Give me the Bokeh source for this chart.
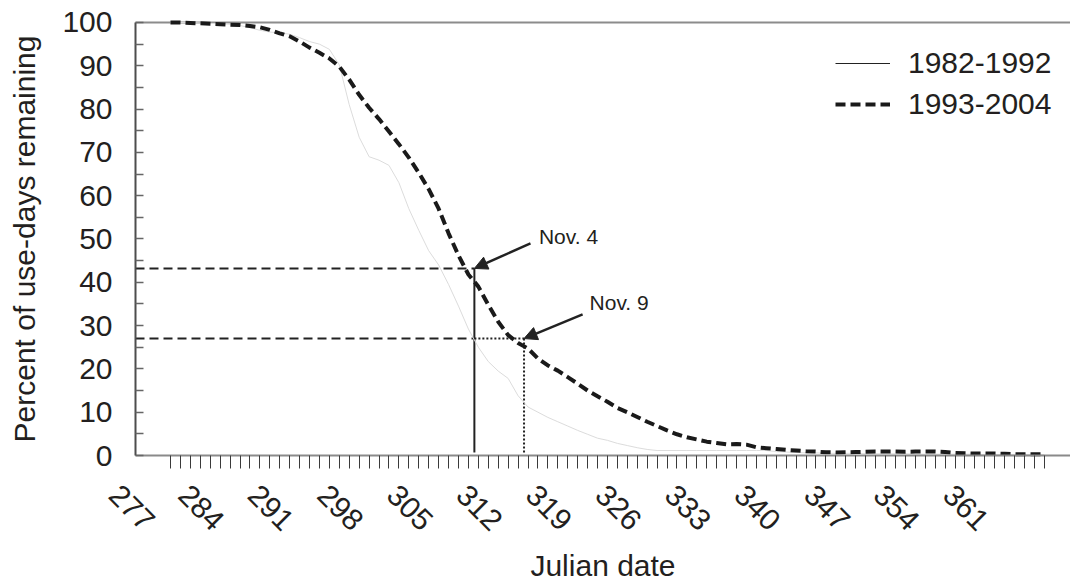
import math
from bokeh.plotting import figure
from bokeh.models import (Range1d, FixedTicker, LabelSet, Label, ColumnDataSource,
                          Arrow, NormalHead, Legend, LegendItem)
from bokeh.core.properties import value
from bokeh.embed import file_html
from bokeh.resources import INLINE

# ---------------- data ----------------
days = list(range(277, 366))

pct_1982_1992 = [
    100, 100, 100, 99.9, 99.8, 99.7, 99.6, 99.3, 98.8, 98.2,      # 277-286
    97.8, 97.6, 97.3, 96.5, 95.6, 95.0, 93.8, 90.2, 81.0, 73.5,   # 287-296
    69.0, 68.2, 67.0, 63.0, 57.0, 52.0, 47.3, 44.0, 39.5, 34.5,   # 297-306
    29.2, 25.0, 21.7, 19.5, 17.8, 13.8, 11.2, 10.0, 8.8, 7.8,     # 307-316
    6.8, 5.8, 4.9, 4.0, 3.5, 2.8, 2.3, 1.8, 1.4, 1.15,            # 317-326
    1.15, 1.15, 1.15, 1.15, 1.15, 1.15, 1.15, 1.15, 1.15, 1.15,   # 327-336
    1.15, 0.9, 0.8, 0.7, 0.6, 0.6, 0.5, 0.5, 0.5, 0.5,            # 337-346
    0.4, 0.4, 0.4, 0.4, 0.4, 0.3, 0.3, 0.3, 0.3, 0.3,             # 347-356
    0.3, 0.3, 0.2, 0.2, 0.2, 0.2, 0.2, 0.2, 0.2,                  # 357-365
]

pct_1993_2004 = [
    100, 100, 99.9, 99.8, 99.7, 99.6, 99.5, 99.4, 99.2, 98.9,     # 277-286
    98.3, 97.5, 96.8, 95.6, 94.2, 93.0, 91.7, 89.8, 86.8, 83.3,   # 287-296
    80.3, 77.7, 74.8, 71.9, 68.8, 65.3, 61.5, 57.0, 51.3, 46.2,   # 297-306
    41.8, 39.0, 34.8, 30.9, 27.8, 26.0, 24.7, 22.4, 20.8, 19.6,   # 307-316
    18.1, 16.6, 15.0, 13.7, 12.4, 11.0, 10.0, 8.9, 7.8, 6.8,      # 317-326
    5.8, 4.9, 4.2, 3.7, 3.2, 2.9, 2.6, 2.65, 2.5, 1.9,            # 327-336
    1.7, 1.5, 1.3, 1.15, 1.0, 0.9, 0.75, 0.7, 0.75, 0.8,          # 337-346
    0.85, 0.9, 0.9, 0.9, 0.85, 0.9, 0.9, 0.9, 0.8, 0.6,           # 347-356
    0.5, 0.45, 0.45, 0.45, 0.4, 0.3, 0.3, 0.3, 0.3,               # 357-365
]
assert len(pct_1982_1992) == len(days) == len(pct_1993_2004)

tick_label_days = list(range(277, 362, 7))
y_ticks = list(range(0, 101, 10))
y_minor_ticks = list(range(5, 100, 10))
y_min, y_max = 0, 100

series_labels = ["1982-1992", "1993-2004"]

# annotation values (day, percent)
nov4_day, nov4_pct = 307.6, 43.2
nov9_day, nov9_pct = 312.6, 27.0
ref_floor = 0.7
nov4_arrow_tail = (313.25, 49.0)
nov9_arrow_tail = (318.5, 32.6)
nov4_text_pos = (314.1, 50.6)
nov9_text_pos = (319.2, 35.3)

# ---------------- style / layout ----------------
FONT = "Liberation Sans"
INK = "#231f20"
W, H = 1070, 582
# the plotting frame covers the whole canvas; axes are pinned inside it
view_x = (259.88, 367.63)
view_y = (-29.33, 105.08)
axis_x_at = 273.475          # day value where the vertical axis stands
label_shift = -3.9           # rotated tick labels sit left of their day (as in the original)
label_y = -12.1              # vertical position of rotated tick labels

p = figure(width=W, height=H, output_backend="svg", toolbar_location=None,
           x_range=Range1d(*view_x), y_range=Range1d(*view_y),
           min_border=0, min_border_left=0, min_border_right=0,
           min_border_top=0, min_border_bottom=0,
           background_fill_color="white", border_fill_color="white")
p.outline_line_color = None
p.xgrid.visible = False
p.ygrid.visible = False

# top border line of the plot area
p.segment(x0=[axis_x_at], y0=[y_max], x1=[view_x[1]], y1=[y_max],
          line_color="#8c8c8c", line_width=2)

# y axis
ya = p.yaxis[0]
ya.fixed_location = axis_x_at
ya.bounds = (y_min, y_max)
ya.ticker = FixedTicker(ticks=y_ticks, minor_ticks=y_minor_ticks)
ya.axis_line_color = "#4d4d4d"
ya.axis_line_width = 2
ya.major_tick_in = 8
ya.major_tick_out = 0
ya.minor_tick_in = 8
ya.minor_tick_out = 0
ya.major_tick_line_color = "#666666"
ya.minor_tick_line_color = "#666666"
ya.major_tick_line_width = 1.5
ya.minor_tick_line_width = 1.5
ya.major_label_text_font = FONT
ya.major_label_text_font_size = "30px"
ya.major_label_text_color = INK
ya.major_label_standoff = 23
ya.axis_label = "Percent of use-days remaining"
ya.axis_label_text_font = FONT
ya.axis_label_text_font_size = "30px"
ya.axis_label_text_font_style = "normal"
ya.axis_label_text_color = INK
ya.axis_label_standoff = 18

# x axis (a tick for every day; labels drawn below as rotated text)
xa = p.xaxis[0]
xa.fixed_location = y_min
xa.bounds = (axis_x_at, view_x[1])
xa.ticker = FixedTicker(ticks=[], minor_ticks=days)
xa.axis_line_color = "#8a8a8a"
xa.axis_line_width = 2
xa.minor_tick_in = 0
xa.minor_tick_out = 13
xa.minor_tick_line_color = "#3a3a3a"
xa.minor_tick_line_width = 1
xa.major_tick_in = 0
xa.major_tick_out = 0
xa.axis_label = "Julian date"
xa.axis_label_text_font = FONT
xa.axis_label_text_font_size = "30px"
xa.axis_label_text_font_style = "normal"
xa.axis_label_text_color = INK
xa.axis_label_standoff = 80

lbl_src = ColumnDataSource(dict(x=[d + label_shift for d in tick_label_days],
                                text=[str(d) for d in tick_label_days]))
p.add_layout(LabelSet(x="x", y=label_y, text="text", source=lbl_src,
                      angle=-math.pi / 4, text_align="center", text_baseline="middle",
                      text_font=value(FONT), text_font_size="30px", text_color=INK))

# reference lines
p.segment(x0=[axis_x_at], y0=[nov4_pct], x1=[nov4_day], y1=[nov4_pct],
          line_color="#222222", line_width=2, line_dash="9 5")
p.segment(x0=[axis_x_at], y0=[nov9_pct], x1=[nov4_day], y1=[nov9_pct],
          line_color="#222222", line_width=2, line_dash="9 5")
p.segment(x0=[nov4_day], y0=[nov9_pct], x1=[nov9_day], y1=[nov9_pct],
          line_color="#222222", line_width=2, line_dash="2 2")
p.segment(x0=[nov4_day], y0=[nov4_pct], x1=[nov4_day], y1=[ref_floor],
          line_color="#222222", line_width=2)
p.segment(x0=[nov9_day], y0=[nov9_pct], x1=[nov9_day], y1=[ref_floor],
          line_color="#222222", line_width=2, line_dash="2 2")

# series
src = ColumnDataSource(dict(day=days, a=pct_1982_1992, b=pct_1993_2004))
r_a = p.line("day", "a", source=src, line_color="#dcdcdc", line_width=1)
r_b = p.line("day", "b", source=src, line_color="#1a1a1a", line_width=4,
             line_dash="10 5", line_cap="butt")
proxy_a = p.line(x=[float("nan")], y=[float("nan")], line_color="#222222", line_width=1)

# arrows and notes
for (tx, ty), hx, hy in [(nov4_arrow_tail, nov4_day, nov4_pct),
                         (nov9_arrow_tail, nov9_day, nov9_pct)]:
    p.add_layout(Arrow(end=NormalHead(size=13, fill_color="#222222", line_color="#222222"),
                       x_start=tx, y_start=ty, x_end=hx, y_end=hy,
                       line_color="#222222", line_width=2.5))
for (tx, ty), txt in [(nov4_text_pos, "Nov. 4"), (nov9_text_pos, "Nov. 9")]:
    p.add_layout(Label(x=tx, y=ty, text=txt, text_align="left", text_baseline="middle",
                       text_font=FONT, text_font_size="21px", text_color=INK))

legend = Legend(items=[LegendItem(label=series_labels[0], renderers=[proxy_a]),
                       LegendItem(label=series_labels[1], renderers=[r_b])],
                location=(835, 461), glyph_width=55, glyph_height=34, label_height=34,
                label_standoff=18, spacing=7, padding=10, border_line_color=None,
                background_fill_alpha=0, label_text_font=FONT,
                label_text_font_size="30px", label_text_color=INK)
p.add_layout(legend)

open("out.html", "w").write(file_html(p, INLINE))
